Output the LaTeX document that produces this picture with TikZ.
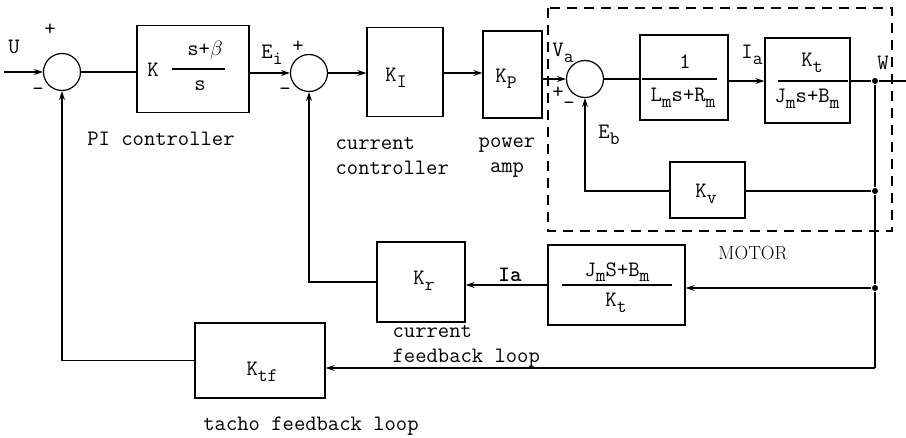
\documentclass[tikz,border=0pt]{standalone}
\usetikzlibrary{arrows.meta}
\newcommand\lo[1]{\raisebox{-0.6ex}{\fontsize{19}{19}\selectfont #1}}
\begin{document}
\begin{tikzpicture}[x=1pt,y=-1pt,line width=1.2pt,
  blk/.style={draw,inner sep=0pt},
  sumj/.style={draw,circle,minimum size=37pt,inner sep=0pt},
  lbl/.style={inner sep=0pt,font=\ttfamily\fontsize{22}{26}\selectfont},
  txt/.style={inner sep=0pt,font=\ttfamily\fontsize{22}{25}\selectfont,align=left},
  arr/.style={-{Stealth[length=9pt,width=6pt]}},
  dotj/.style={circle,fill,minimum size=6pt,inner sep=0pt}]
\useasboundingbox (0,0) rectangle (906,438);
% motor boundary
\draw[dash pattern=on 10pt off 7pt] (548,8) rectangle (892,231);
% summing junctions
\node[sumj] (c1) at (62,72) {};
\node[sumj] (c2) at (309,73) {};
\node[sumj] (c3) at (585,79) {};
% blocks
\node[blk,minimum width=112pt,minimum height=87pt] (pi) at (193,69) {};
\node[blk,minimum width=76pt,minimum height=89pt] (ki) at (405,72) {};
\node[blk,minimum width=59pt,minimum height=87pt] (kp) at (512.5,74.5) {};
\node[blk,minimum width=88pt,minimum height=85pt] (lm) at (684,77.5) {};
\node[blk,minimum width=85pt,minimum height=85pt] (kt) at (807.5,80.5) {};
\node[blk,minimum width=75pt,minimum height=56pt] (kv) at (707.5,190) {};
\node[blk,minimum width=137pt,minimum height=80pt] (jm) at (616.5,285) {};
\node[blk,minimum width=88pt,minimum height=80pt] (kr) at (421,282) {};
\node[blk,minimum width=130pt,minimum height=75pt] (ktf) at (260,360.5) {};
% junction points
\coordinate (in) at (4,72);
\node[dotj] (wj) at (875,81) {};
\node[dotj] (j2) at (875,191) {};
\node[dotj] (j3) at (875,288) {};
\coordinate (cb) at (875,368);
\coordinate (out) at (906,81);
% forward path
\draw[arr] (in) -- (c1);
\draw (c1) -- (pi.west |- c1);
\draw[arr] (pi.east |- c2) -- (c2);
\draw[arr] (c2) -- (ki.west |- c2);
\draw[arr] (ki.east |- c2) -- (kp.west |- c2);
\draw[arr] (kp.east |- c3) -- (c3);
\draw (c3) -- (lm.west |- c3);
\draw[arr] (lm.east |- wj) -- (kt.west |- wj);
\draw (kt.east |- wj) -- (wj) -- (out);
% back-emf loop
\draw (wj) -- (j2) -- (j3) -- (cb);
\draw (j2) -- (kv.east |- j2);
\draw[arr] (kv.west |- j2) -| (c3.south);
% current feedback
\draw[arr] (j3) -- (jm.east |- j3);
\draw[arr] (jm.west) -- (kr.east |- jm.west);
\draw[arr] (kr.west) -| (c2.south);
% tacho feedback
\draw[arr] (cb) -- (ktf.east |- cb);
\draw[arr] (ktf.west) -| (c1.south);
% fraction bars
\draw (172,69) -- (225,69);
\draw (642,79) -- (717,79);
\draw (778,81) -- (848,81);
\draw (562,285) -- (672,285);
% block texts
\node[lbl] (tK) at (153,70) {K};
\node[lbl] (tpn) at (205,50) {s+$\beta$};
\node[lbl] (tpd) at (200,86) {s};
\node[lbl] (tki) at (396,78) {K\lo{I}};
\node[lbl] (tkp) at (506,79) {K\lo{P}};
\node[lbl] (tlmn) at (685,62) {1};
\node[lbl] (tlmd) at (683,98) {L\lo{m}s+R\lo{m}};
\node[lbl] (tktn) at (812,63) {K\lo{t}};
\node[lbl] (tktd) at (807,99) {J\lo{m}s+B\lo{m}};
\node[lbl] (tkv) at (706,194) {K\lo{v}};
\node[lbl] (tkr) at (424,281) {K\lo{r}};
\node[lbl] (tjmn) at (617,272) {J\lo{m}S+B\lo{m}};
\node[lbl] (tjmd) at (616,303) {K\lo{t}};
\node[lbl] (tktf) at (262,372) {K\lo{tf}};
% signal labels
\node[lbl] (tU) at (14,47) {U};
\node[lbl] (tEi) at (272,55) {E\lo{i}};
\node[lbl] (tVa) at (563,53) {V\lo{a}};
\node[lbl] (tEb) at (609,135) {E\lo{b}};
\node[lbl] (tIa) at (752,55) {I\lo{a}};
\node[lbl] (tW) at (883,63) {W};
\node[lbl,font=\ttfamily\bfseries\fontsize{22}{26}\selectfont] (tIa2) at (510,275) {Ia};
% signs
\node[lbl] (p1) at (50,30) {+};
\node[lbl] (m1) at (38,92) {-};
\node[lbl] (p2) at (298,47) {+};
\node[lbl] (m2) at (285,92) {-};
\node[lbl] (p3) at (558,93) {+};
\node[lbl] (m3) at (569,106) {-};
% captions
\node[txt] (cpi) at (161,139) {PI controller};
\node[txt,anchor=west] (ccc) at (335,156) {current\\controller};
\node[txt,align=center] (cpa) at (507,158) {power\\amp};
\node[inner sep=0pt,font=\rmfamily\fontsize{19}{21}\selectfont] (cmo) at (753,253) {MOTOR};
\node[txt,anchor=west] (ccf) at (392,346) {current\\feedback loop};
\node[txt] (ctf) at (311,426) {tacho feedback loop};
\end{tikzpicture}
\end{document}
